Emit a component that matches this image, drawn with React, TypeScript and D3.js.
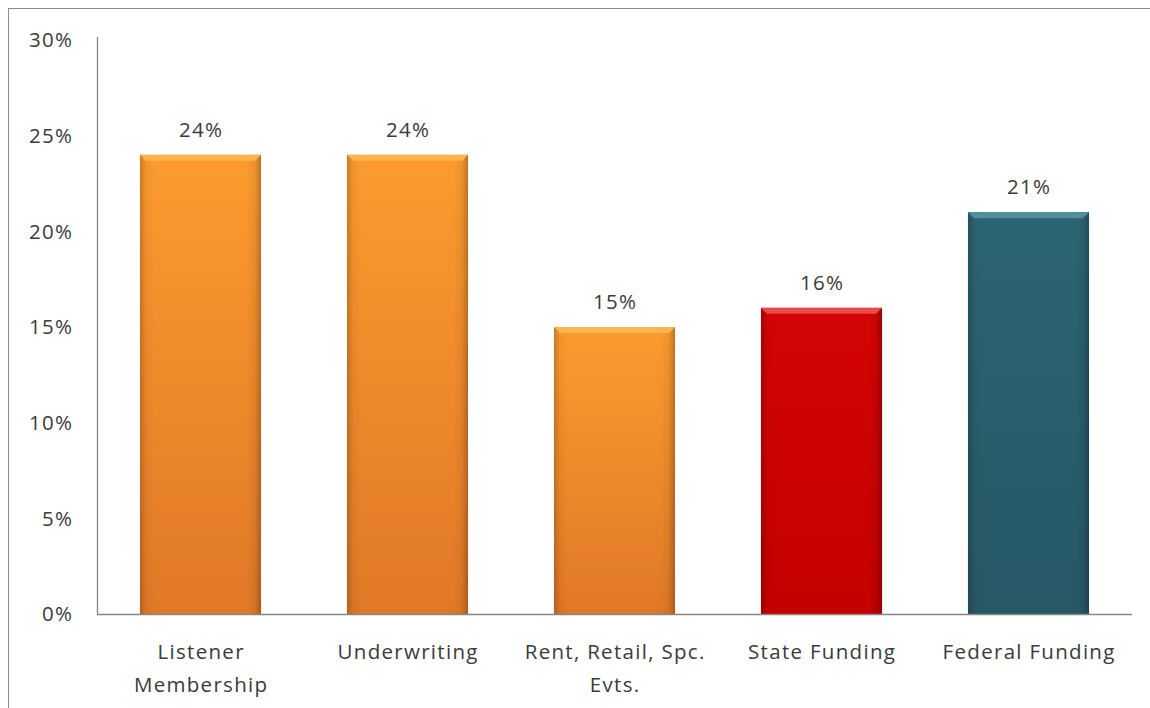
import React from 'react';
import * as d3 from 'd3';

// values (percent)
const categories = ['Listener Membership', 'Underwriting', 'Rent, Retail, Spc. Evts.', 'State Funding', 'Federal Funding'];
const labelLines = [['Listener', 'Membership'], ['Underwriting'], ['Rent, Retail, Spc.', 'Evts.'], ['State Funding'], ['Federal Funding']];
const values = [24, 24, 15, 16, 21];
const barColors = ['orange', 'orange', 'orange', 'red', 'teal'];
const yTicks = [0, 5, 10, 15, 20, 25, 30];

const palettes: Record<string, { top: string; bottom: string; bevel: string }> = {
  orange: { top: '#fc9b2e', bottom: '#e07827', bevel: '#fdb44e' },
  red: { top: '#d40404', bottom: '#c40000', bevel: '#e84a4a' },
  teal: { top: '#2d6473', bottom: '#265866', bevel: '#4f8e9c' },
};

const width = 1150;
const height = 708;
const marginLeft = 97;
const marginRight = 18;
const axisY = 614;
const topY = 40;
const font = "'Open Sans', 'Noto Sans', sans-serif";
const textColor = '#3a3a3a';
const fs = 20.5;
const ls = 1.3;

const App: React.FC = () => {
  const x = d3.scaleBand<string>()
    .domain(categories)
    .range([marginLeft, width - marginRight])
    .paddingInner(0.415)
    .paddingOuter(0.2075);

  const y = d3.scaleLinear().domain([0, 30]).range([axisY, topY]);
  const bw = x.bandwidth();
  const bevel = 6;

  return (
    <svg width={width} height={height} style={{ position: 'absolute', left: 0, top: 0, display: 'block', background: '#fff' }}>
      <defs>
        {Object.entries(palettes).map(([k, p]) => (
          <linearGradient key={k} id={`v-${k}`} x1="0" y1="0" x2="0" y2="1">
            <stop offset="0%" stopColor={p.top} />
            <stop offset="100%" stopColor={p.bottom} />
          </linearGradient>
        ))}
        <linearGradient id="edges" x1="0" y1="0" x2="1" y2="0">
          <stop offset="0%" stopColor="#000" stopOpacity={0.2} />
          <stop offset="5%" stopColor="#000" stopOpacity={0.04} />
          <stop offset="12%" stopColor="#000" stopOpacity={0} />
          <stop offset="88%" stopColor="#000" stopOpacity={0} />
          <stop offset="95%" stopColor="#000" stopOpacity={0.06} />
          <stop offset="100%" stopColor="#000" stopOpacity={0.25} />
        </linearGradient>
      </defs>

      {/* outer frame */}
      <rect x={8.5} y={8.5} width={1160} height={720} fill="none" stroke="#8a8a8a" strokeWidth={1} />

      {/* y tick labels */}
      {yTicks.map(t => (
        <text key={t} x={72 + ls} y={y(t)} dy="0.35em" textAnchor="end" fontFamily={font} fontSize={fs} fill={textColor} letterSpacing={ls}>
          {t}%
        </text>
      ))}

      {/* bars */}
      {categories.map((c, i) => {
        const x0 = x(c)!;
        const yt = y(values[i]);
        const p = barColors[i];
        const h = axisY - yt;
        return (
          <g key={c}>
            <rect x={x0} y={yt} width={bw} height={h} fill={`url(#v-${p})`} />
            <rect x={x0} y={yt} width={bw} height={h} fill="url(#edges)" />
            <polygon
              points={`${x0},${yt} ${x0 + bw},${yt} ${x0 + bw - bevel},${yt + bevel} ${x0 + bevel},${yt + bevel}`}
              fill={palettes[p].bevel}
            />
            <text x={x0 + bw / 2 + ls / 2} y={yt - 18} textAnchor="middle" fontFamily={font} fontSize={fs} fill={textColor} letterSpacing={ls}>
              {values[i]}%
            </text>
          </g>
        );
      })}

      {/* axes */}
      <line x1={marginLeft + 0.5} x2={marginLeft + 0.5} y1={37} y2={axisY} stroke="#868686" strokeWidth={1.3} />
      <line x1={marginLeft} x2={width - marginRight} y1={axisY + 0.5} y2={axisY + 0.5} stroke="#868686" strokeWidth={1.3} />

      {/* category labels */}
      {categories.map((c, i) => (
        <text key={c} textAnchor="middle" fontFamily={font} fontSize={fs} fill={textColor} letterSpacing={ls}>
          {labelLines[i].map((l, j) => (
            <tspan key={j} x={x(c)! + bw / 2 + ls / 2} y={659 + j * 33}>{l}</tspan>
          ))}
        </text>
      ))}
    </svg>
  );
};

export default App;
